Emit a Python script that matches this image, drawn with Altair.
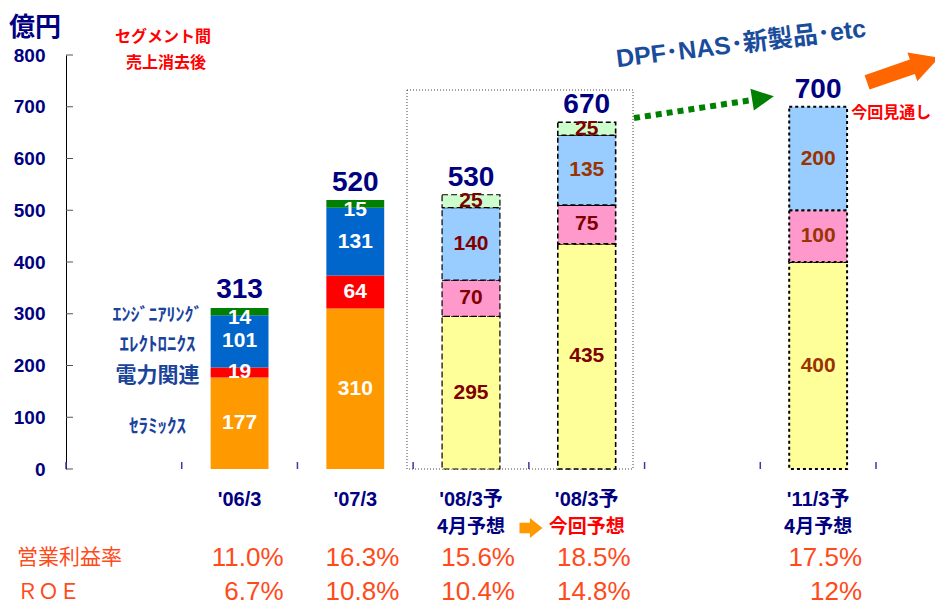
import altair as alt
import pandas as pd

# ---------------- data ----------------
slots = ["_s0", "'06/3", "'07/3", "'08/3予A", "'08/3予B", "_s5", "'11/3予"]
periods = ["'06/3", "'07/3", "'08/3予A", "'08/3予B", "'11/3予"]
period_line1 = ["'06/3", "'07/3", "'08/3予", "'08/3予", "'11/3予"]
period_line2 = ["", "", "4月予想", "今回予想", "4月予想"]
kinds = ["actual", "actual", "fc_a", "fc_b", "fc_c"]

segments = ["セラミックス", "電力関連", "エレクトロニクス", "エンジニアリング"]
segment_labels = ["ｾﾗﾐｯｸｽ", "電力関連", "ｴﾚｸﾄﾛﾆｸｽ", "ｴﾝｼﾞﾆｱﾘﾝｸﾞ"]
ceramics = [177, 310, 295, 435, 400]
power = [19, 64, 70, 75, 100]
electronics = [101, 131, 140, 135, 200]
engineering = [14, 15, 25, 25, 0]
totals = [313, 520, 530, 670, 700]
op_margin = ["11.0%", "16.3%", "15.6%", "18.5%", "17.5%"]
roe = ["6.7%", "10.8%", "10.4%", "14.8%", "12%"]
y_ticks = [0, 100, 200, 300, 400, 500, 600, 700, 800]

# ---------------- styles ----------------
JP = "Noto Sans CJK JP"
LAT = "Liberation Sans, Noto Sans CJK JP, sans-serif"
NAVY = "#000080"
SEG_BLUE = "#1a439c"
PCT = "#ff4a1a"

actual_colors = ["#ff9900", "#ff0000", "#0066cc", "#008000"]
fc_colors = ["#ffff99", "#ff99cc", "#99ccff", "#ccffcc"]

# ---------------- frames ----------------
series = [ceramics, power, electronics, engineering]
rows = []
for i, p in enumerate(periods):
    base = 0
    for s, seg in enumerate(segments):
        v = series[s][i]
        if v == 0:
            continue
        kind = kinds[i]
        if kind == "actual":
            tone = "white_top" if seg == "エンジニアリング" else "white"
        elif kind == "fc_c" or (kind == "fc_b" and seg == "エレクトロニクス"):
            tone = "brown"
        else:
            tone = "darkred"
        rows.append({
            "period": p, "segment": seg, "label": segment_labels[s],
            "value": v, "y0": base, "y1": base + v, "mid": base + v / 2,
            "kind": kind,
            "ckey": seg + ("|a" if kind == "actual" else "|f"),
            "tone": tone,
        })
        base += v
bars = pd.DataFrame(rows)

per = pd.DataFrame({
    "period": periods, "l1": period_line1, "l2": period_line2,
    "total": totals, "om": op_margin, "roe": roe,
})
slot_df = pd.DataFrame({"slot": slots})
ytick_df = pd.DataFrame({"v": y_ticks})
one = pd.DataFrame({"d": [0]})

ckeys = [s + "|a" for s in segments] + [s + "|f" for s in segments]
crange = actual_colors + fc_colors

xscale = alt.Scale(domain=slots, paddingInner=0.5, paddingOuter=0.25)
yscale = alt.Scale(domain=[0, 800], nice=False)
HALF = 810 / 7 / 2


def X(f):
    return alt.X(f, type="nominal", scale=xscale, axis=None)


# ---------------- layers ----------------
bar_actual = alt.Chart(bars).transform_filter(alt.datum.kind == "actual").mark_bar().encode(
    x=alt.X("period:N", scale=xscale,
            axis=alt.Axis(labels=False, ticks=False, title=None, domainColor="#1c1c8c",
                          domainWidth=1.5, grid=False)),
    y=alt.Y("y0:Q", scale=yscale,
            axis=alt.Axis(values=y_ticks, labelFont=LAT, labelFontSize=19, labelFontWeight="bold",
                          labelColor=NAVY, domainColor="#000000", domainWidth=1, ticks=False,
                          labelPadding=21, grid=False, title=None)),
    y2="y1:Q",
    color=alt.Color("ckey:N", scale=alt.Scale(domain=ckeys, range=crange), legend=None),
)

bar_fc = alt.Chart(bars).transform_filter(alt.datum.kind != "actual").mark_bar(stroke="#000000").encode(
    x=X("period"),
    y=alt.Y("y0:Q", scale=yscale),
    y2="y1:Q",
    color=alt.Color("ckey:N", scale=alt.Scale(domain=ckeys, range=crange), legend=None),
    strokeDash=alt.StrokeDash("kind:N", scale=alt.Scale(domain=["fc_a", "fc_b", "fc_c"],
                                                        range=[[6, 3], [5, 3], [3, 3]]), legend=None),
    strokeWidth=alt.StrokeWidth("kind:N", scale=alt.Scale(domain=["fc_a", "fc_b", "fc_c"],
                                                          range=[1.2, 2, 2.5]), legend=None),
)


def seg_text(tone, colour, dy=0):
    return alt.Chart(bars).transform_filter(alt.datum.tone == tone).mark_text(
        font=LAT, fontSize=21, fontWeight="bold", baseline="middle", color=colour, dy=dy
    ).encode(
        x=X("period"),
        y=alt.Y("mid:Q", scale=yscale),
        text="value:Q",
    )


seg_white = seg_text("white", "#ffffff")
seg_white_top = seg_text("white_top", "#ffffff", dy=6)
seg_red = seg_text("darkred", "#800000")
seg_brown = seg_text("brown", "#993300")


def legend_text(label, size):
    return alt.Chart(bars).transform_filter(
        (alt.datum.period == "'06/3") & (alt.datum.label == label)
    ).mark_text(font=JP, fontWeight="bold", baseline="middle", dx=-82, dy=4, color=SEG_BLUE,
                fontSize=size).encode(
        x=X("period"),
        y=alt.Y("mid:Q", scale=yscale),
        text="label:N",
    )


legend_layers = [legend_text(lbl, sz) for lbl, sz in zip(segment_labels, [19, 21, 19, 18])]

total_text = alt.Chart(per).mark_text(font=LAT, fontSize=28, fontWeight="bold", baseline="alphabetic",
                                      dy=-9, color=NAVY).encode(
    x=X("period"), y=alt.Y("total:Q", scale=yscale), text="total:Q",
)

xl1 = alt.Chart(per).mark_text(font=LAT, fontSize=20, fontWeight="bold", baseline="middle",
                               color=NAVY).encode(
    x=X("period"), y=alt.value(445), text="l1:N",
)
xl2 = alt.Chart(per).mark_text(font=JP, fontSize=19, fontWeight="bold", baseline="middle").encode(
    x=X("period"), y=alt.value(472), text="l2:N",
    color=alt.condition(alt.datum.l2 == "今回予想", alt.value("#ff0000"), alt.value(NAVY)),
)

om_text = alt.Chart(per).mark_text(font=LAT, fontSize=26, align="right", baseline="alphabetic",
                                   dx=44, color=PCT).encode(
    x=X("period"), y=alt.value(511), text="om:N",
)
roe_text = alt.Chart(per).mark_text(font=LAT, fontSize=26, align="right", baseline="alphabetic",
                                    dx=44, color=PCT).encode(
    x=X("period"), y=alt.value(545), text="roe:N",
)

row_om = alt.Chart(one).mark_text(text="営業利益率", font=JP, fontSize=21, align="left",
                                  baseline="middle", color=PCT).encode(x=alt.value(-49), y=alt.value(503))
row_roe = alt.Chart(one).mark_text(text="ＲＯＥ", font=JP, fontSize=21, align="left",
                                   baseline="middle", color=PCT).encode(x=alt.value(-49), y=alt.value(538))

ytick_rules = alt.Chart(ytick_df).mark_rule(color="#555555", strokeWidth=1).encode(
    y=alt.Y("v:Q", scale=yscale), x=alt.value(0), x2=alt.value(7),
)
xtick_rules = alt.Chart(slot_df).mark_rule(color="#3a3aa0", strokeWidth=1.5, xOffset=-HALF).encode(
    x=X("slot"), y=alt.value(407), y2=alt.value(414),
)
xtick_end = alt.Chart(slot_df).transform_filter(alt.datum.slot == slots[-1]).mark_rule(
    color="#3a3aa0", strokeWidth=1.5, xOffset=HALF).encode(
    x=X("slot"), y=alt.value(407), y2=alt.value(414),
)

frame = alt.Chart(one).mark_rect(fillOpacity=0, stroke="#444444", strokeWidth=1, strokeDash=[1, 2]).encode(
    x=alt.value(341), x2=alt.value(567), y=alt.value(35), y2=alt.value(414),
)

title_text = alt.Chart(one).mark_text(text="億円", font=JP, fontSize=26, fontWeight="bold", align="left",
                                      baseline="middle", color=NAVY).encode(x=alt.value(-57), y=alt.value(-27))
note1 = alt.Chart(one).mark_text(text="セグメント間", font=JP, fontSize=16, fontWeight="bold",
                                 baseline="middle", color="#ff0000").encode(x=alt.value(97), y=alt.value(-18))
note2 = alt.Chart(one).mark_text(text="売上消去後", font=JP, fontSize=16, fontWeight="bold",
                                 baseline="middle", color="#ff0000").encode(x=alt.value(100), y=alt.value(8))
dpf = alt.Chart(one).mark_text(text="DPF･NAS･新製品･etc", font=LAT, fontSize=25, fontWeight="bold",
                               baseline="middle", angle=353, color="#1a4c9c").encode(
    x=alt.value(675), y=alt.value(-11))
outlook = alt.Chart(per).transform_filter(alt.datum.period == "'11/3予").mark_text(
    text="今回見通し", font=JP, fontSize=16, fontWeight="bold", align="left", baseline="middle",
    dx=33, dy=6, color="#ff0000").encode(x=X("period"), y=alt.Y("total:Q", scale=yscale))

green_line = alt.Chart(one).mark_rule(color="#008000", strokeWidth=6, strokeDash=[6, 5]).encode(
    x=alt.value(568), y=alt.value(63), x2=alt.value(686), y2=alt.value(45))
green_head = alt.Chart(one).mark_point(shape="M-1,-1 L1,0 L-1,1 Z", filled=True, fill="#008000",
                                       fillOpacity=1, strokeWidth=0, size=484, angle=351).encode(
    x=alt.value(697), y=alt.value(43))
big_arrow = alt.Chart(one).mark_point(
    shape="M-1,-0.2 L0.26,-0.2 L0.26,-0.4 L1,0 L0.26,0.4 L0.26,0.2 L-1,0.2 Z",
    filled=True, fill="#ff6600", fillOpacity=1, strokeWidth=0, size=5776, angle=341).encode(
    x=alt.value(837), y=alt.value(15))
small_arrow = alt.Chart(one).mark_point(
    shape="M-1,-0.45 L-0.1,-0.45 L-0.1,-0.87 L1,0 L-0.1,0.87 L-0.1,0.45 L-1,0.45 Z",
    filled=True, fill="#ff9900", fillOpacity=1, strokeWidth=0, size=529).encode(
    x=alt.value(465), y=alt.value(473))

chart = alt.layer(
    frame, bar_actual, bar_fc, seg_white, seg_white_top, seg_red, seg_brown, *legend_layers, total_text,
    ytick_rules, xtick_rules, xtick_end,
    xl1, xl2, om_text, roe_text, row_om, row_roe, title_text, note1, note2, dpf, outlook,
    green_line, green_head, big_arrow, small_arrow,
).properties(
    width=810, height=414,
    autosize=alt.AutoSizeParams(type="none"),
    padding={"left": 58, "top": 47, "right": 59, "bottom": 136},
).configure_view(stroke=None)

chart.save("out.html", embed_options={"renderer": "svg", "actions": False})
